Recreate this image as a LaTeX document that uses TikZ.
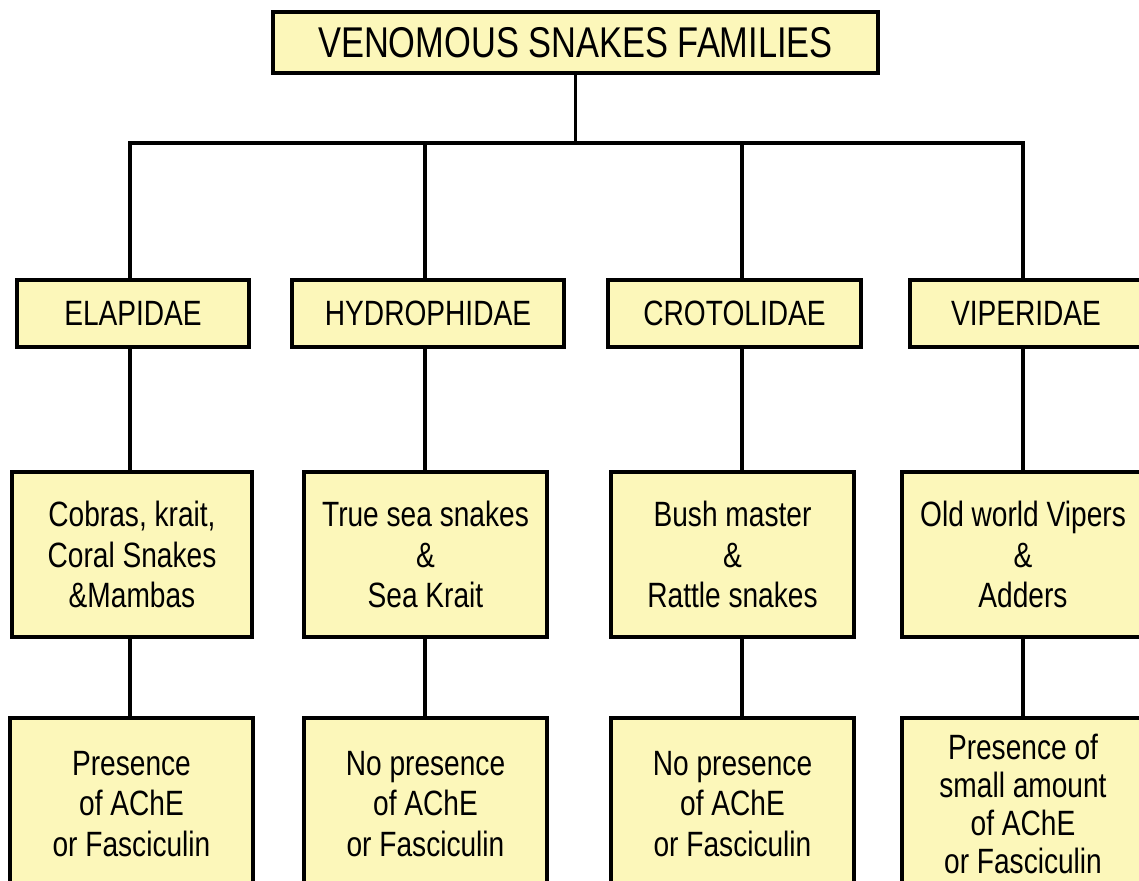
\documentclass[tikz,border=0pt]{standalone}
\usepackage{fontspec}
\setmainfont{Liberation Sans}[FakeStretch=0.8]
\definecolor{boxyellow}{RGB}{252,247,186}

\begin{document}
\begin{tikzpicture}[x=0.02cm, y=-0.02cm,
  box/.style={draw, line width=1.9pt, fill=boxyellow, inner sep=0pt, align=center, font=\fontsize{20}{23}\selectfont},
  family/.style={box, minimum height=1.34cm},
  kind/.style={box, minimum height=3.3cm},
  ache/.style={box, minimum height=3.44cm},
  link/.style={line width=2pt}]
\useasboundingbox (0,0) rectangle (1139,880);
\clip (0,0) rectangle (1139,880);
\node[box, minimum width=12.1cm, minimum height=1.22cm, font=\fontsize{24.5}{28}\selectfont] (top) at (575.5,42.5) {VENOMOUS SNAKES FAMILIES};
\node[family, minimum width=4.64cm] (fam1) at (133,313.5) {ELAPIDAE};
\node[family, minimum width=5.44cm] (fam2) at (428,313.5) {HYDROPHIDAE};
\node[family, minimum width=5.06cm] (fam3) at (734.5,313.5) {CROTOLIDAE};
\node[family, minimum width=4.64cm] (fam4) at (1026,313.5) {VIPERIDAE};
\node[kind, minimum width=4.8cm] (sp1) at (132,554.5) {Cobras, krait,\\Coral Snakes\\\&Mambas};
\node[kind, minimum width=4.86cm] (sp2) at (425.5,554.5) {True sea snakes\\\&\\Sea Krait};
\node[kind, minimum width=4.86cm] (sp3) at (732.5,554.5) {Bush master\\\&\\Rattle snakes};
\node[kind, minimum width=4.84cm] (sp4) at (1023,554.5) {Old world Vipers\\\&\\Adders};
\node[ache, minimum width=4.86cm] (ach1) at (131.5,804) {Presence\\of AChE\\or Fasciculin};
\node[ache, minimum width=4.86cm] (ach2) at (425.5,804) {No presence\\of AChE\\or Fasciculin};
\node[ache, minimum width=4.86cm] (ach3) at (732.5,804) {No presence\\of AChE\\or Fasciculin};
\node[ache, minimum width=4.84cm, font=\fontsize{20}{21.5}\selectfont] (ach4) at (1023,804) {Presence of\\small amount\\of AChE\\or Fasciculin};
\coordinate (c1) at (130,143);
\coordinate (c2) at (425,143);
\coordinate (c3) at (742,143);
\coordinate (c4) at (1023,143);
\draw[link] (top.south) -- (top.south |- c1);
\draw[link] (c1 |- fam1.north) -- (c1) -- (c4) -- (c4 |- fam4.north);
\draw[link] (c2) -- (c2 |- fam2.north);
\draw[link] (c3) -- (c3 |- fam3.north);
\draw[link] (c1 |- fam1.south) -- (c1 |- sp1.north);
\draw[link] (c2 |- fam2.south) -- (c2 |- sp2.north);
\draw[link] (c3 |- fam3.south) -- (c3 |- sp3.north);
\draw[link] (c4 |- fam4.south) -- (c4 |- sp4.north);
\draw[link] (c1 |- sp1.south) -- (c1 |- ach1.north);
\draw[link] (c2 |- sp2.south) -- (c2 |- ach2.north);
\draw[link] (c3 |- sp3.south) -- (c3 |- ach3.north);
\draw[link] (c4 |- sp4.south) -- (c4 |- ach4.north);
\end{tikzpicture}
\end{document}
